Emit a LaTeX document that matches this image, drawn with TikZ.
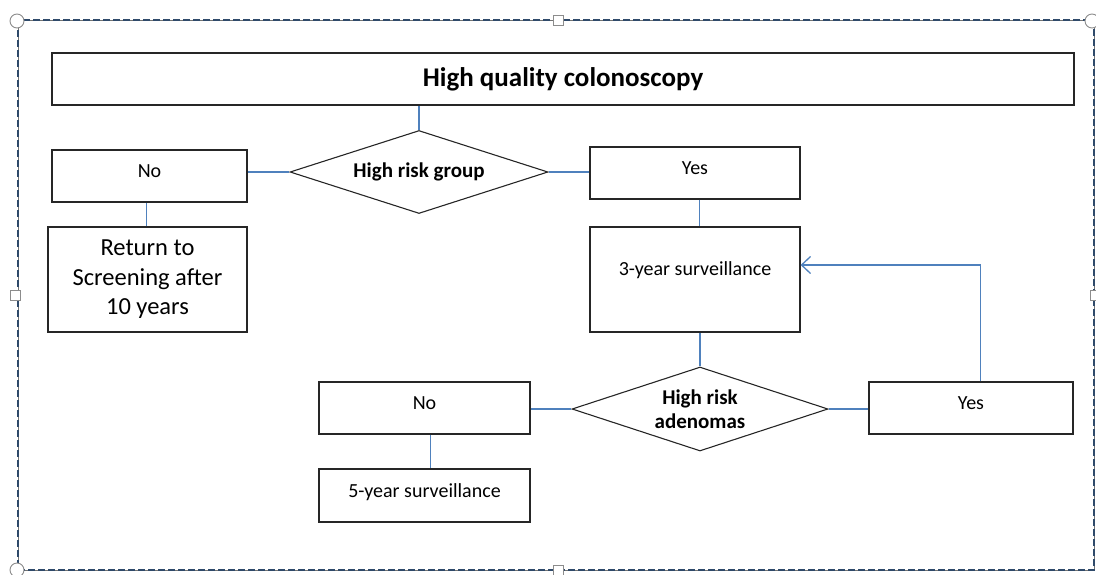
\documentclass[tikz,border=0pt]{standalone}
\usepackage{fontspec}
\setmainfont{Carlito}
\usetikzlibrary{shapes.geometric,arrows.meta}
\definecolor{conn}{HTML}{4F81BD}
\definecolor{frame}{HTML}{2F4A6A}
\tikzset{
  box/.style={draw=black!85, line width=1.2pt, rectangle, inner sep=0pt, align=center},
  dia/.style={draw=black!85, line width=1.1pt, diamond, shape aspect=3.1, inner sep=0pt, align=center},
  link/.style={draw=conn, line width=1.5pt},
  small/.style={font=\fontsize{20}{24}\selectfont},
  boldt/.style={font=\fontsize{21}{24}\selectfont\bfseries},
  handle/.style={draw=black!45, fill=white, line width=0.9pt}
}
\begin{document}
\begin{tikzpicture}[x=1pt,y=-1pt]
\useasboundingbox (0,0) rectangle (1096,574);
% selection frame
\draw[black!55, line width=0.8pt] (18,20) rectangle (1094,570);
\draw[frame, line width=1.2pt, dash pattern=on 7pt off 3pt] (18,20) rectangle (1094,570);
\draw[handle] (17,21) circle (7);
\draw[handle] (1092,21) circle (7);
\draw[handle] (17,570) circle (7);
\draw[handle] (553,15) rectangle (563,25);
\draw[handle] (553,565) rectangle (563,575);
\draw[handle] (10,290) rectangle (20,300);
\draw[handle] (1090,290) rectangle (1100,300);
% nodes
\node[box, minimum width=1022, minimum height=52, font=\fontsize{27}{30}\selectfont\bfseries] (title) at (563,79) {High quality colonoscopy};
\node[dia, boldt, minimum width=258, minimum height=83] (d1) at (419,172) {High risk group};
\node[box, small, minimum width=195, minimum height=52, text depth=10pt] (no1) at (149.5,176) {No};
\node[box, minimum width=199, minimum height=105, font=\fontsize{24.5}{29.5}\selectfont] (ret) at (147.5,279.5) {Return to\\Screening after\\10 years};
\node[box, small, minimum width=210, minimum height=52, text depth=10pt] (yes1) at (695,173) {Yes};
\node[box, small, minimum width=210, minimum height=105, text depth=22pt] (yr3) at (695,279.5) {3-year surveillance};
\node[dia, boldt, minimum width=256, minimum height=84] (d2) at (700,409) {High risk\\adenomas};
\node[box, small, minimum width=204, minimum height=52, text depth=10pt] (yes2) at (971,408) {Yes};
\node[box, small, minimum width=211, minimum height=52, text depth=10pt] (no2) at (424.5,408) {No};
\node[box, small, minimum width=211, minimum height=53, text depth=9pt] (yr5) at (424.5,495.5) {5-year surveillance};
% connectors
\draw[link] (d1.north) -- (d1.north |- title.south);
\draw[link] (d1.west) -- (d1.west -| no1.east);
\draw[link] (d1.east) -- (d1.east -| yes1.west);
\draw[link] ([xshift=-1pt]ret.north) -- ([xshift=-1pt]ret.north |- no1.south);
\draw[link] ([xshift=4.5pt]yes1.south) -- ([xshift=4.5pt]yr3.north);
\draw[link] (d2.north) -- (d2.north |- yr3.south);
\draw[link] (d2.east) -- (d2.east -| yes2.west);
\draw[link] (d2.west) -- (d2.west -| no2.east);
\draw[link] ([xshift=6pt]no2.south) -- ([xshift=6pt]yr5.north);
\draw[link, -{Straight Barb[length=9pt,width=17pt,line width=1.3pt]}] ([xshift=9.5pt]yes2.north) |- ([yshift=14.5pt]yr3.east);
\end{tikzpicture}
\end{document}
